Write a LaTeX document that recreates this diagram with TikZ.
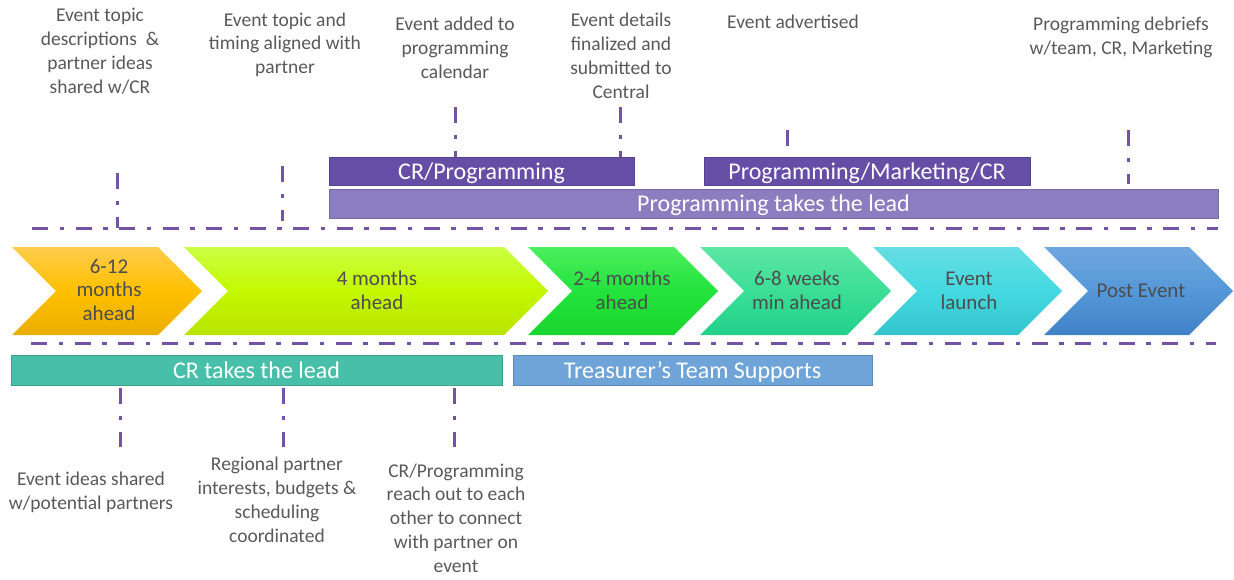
\documentclass[tikz,border=0pt]{standalone}
\usepackage{fontspec}
\setmainfont{Carlito}
\definecolor{ddc}{HTML}{7453A6}
\definecolor{labc}{HTML}{595959}
\definecolor{chevc}{HTML}{4D4D4D}
\definecolor{barA}{HTML}{664EA6}
\definecolor{barB}{HTML}{8C7CC0}
\definecolor{barC}{HTML}{47BFA9}
\definecolor{barD}{HTML}{6FA4D9}
\newcommand\chevshape[5]{\definecolor{chT}{HTML}{#3}\definecolor{chM}{HTML}{#4}\definecolor{chB}{HTML}{#5}%
  \path[top color=chT, bottom color=chB, middle color=chM]
  (#1,247) -- (#2,247) -- ({#2+44},291) -- (#2,335) -- (#1,335) -- ({#1+44},291) -- cycle;}
\begin{document}
\begin{tikzpicture}[x=1pt,y=-1pt,
  ddline/.style={draw=ddc, line width=3pt, dash pattern=on 16pt off 11.5pt on 4.5pt off 11.5pt},
  lab/.style={font=\fontsize{19.5}{23.7}\selectfont, text=labc, align=center, inner sep=0pt, anchor=base},
  chevtxt/.style={font=\fontsize{21}{23.3}\selectfont, text=chevc, align=center, inner sep=0pt, anchor=base},
  bar/.style={inner sep=0pt, text=white, font=\fontsize{24}{28}\selectfont, text height=16pt, text depth=0pt,
              draw=#1!85!black, line width=0.6pt, fill=#1},
]
\useasboundingbox (0,0) rectangle (1234,579);

% chevrons
\chevshape{12}{158}{FFCC4D}{FFC000}{EAAE00}
\chevshape{184}{504}{CCFF44}{C4F800}{B8E400}
\chevshape{528}{674}{4CEE5E}{22E33C}{1AD62E}
\chevshape{700}{847}{5CE6A4}{3BDE96}{22D08A}
\chevshape{873}{1018}{66DDE4}{44D9E0}{33C4CC}
\chevshape{1044}{1189}{6EA6DF}{5598D8}{3E82C6}

% (base anchor = baseline of the last line)
\node[chevtxt] (c1) at (109,320) {6-12\\months\\ahead};
\node[chevtxt] (c2) at (377,309) {4 months\\ahead};
\node[chevtxt] (c3) at (622,309) {2-4 months\\ahead};
\node[chevtxt] (c4) at (797,309) {6-8 weeks\\min ahead};
\node[chevtxt] (c5) at (969,309) {Event\\launch};
\node[chevtxt] (c6) at (1141,297) {Post Event};

% bars
\node[bar=barA, minimum width=305pt, minimum height=28pt] (crp) at (481.5,171) {CR/Programming};
\node[bar=barA, minimum width=326pt, minimum height=28pt] (pmc) at (867,171) {Programming/Marketing/CR};
\node[bar=barB, minimum width=889pt, minimum height=29pt] (ptl) at (773.5,203.5) {Programming takes the lead};
\node[bar=barC, minimum width=491pt, minimum height=30pt] (crl) at (256.5,370) {CR takes the lead};
\node[bar=barD, minimum width=359pt, minimum height=30pt] (tts) at (692.5,370) {Treasurer’s Team Supports};

% top labels
\node[lab] (t1) at (100,93) {Event topic\\descriptions\ \ \&\\partner ideas\\shared w/CR};
\node[lab] (t2) at (285,73.5) {Event topic and\\timing aligned with\\partner};
\node[lab] (t3) at (455,78) {Event added to\\programming\\calendar};
\node[lab] (t4) at (621,98) {Event details\\finalized and\\submitted to\\Central};
\node[lab] (t5) at (793,28) {Event advertised};
\node[lab] (t6) at (1121,54.5) {Programming debriefs\\w/team, CR, Marketing};

% bottom labels
\node[lab] (b1) at (91,509) {Event ideas shared\\w/potential partners};
\node[lab] (b2) at (277,542) {Regional partner\\interests, budgets \&\\scheduling\\coordinated};
\node[lab] (b3) at (456,572) {CR/Programming\\reach out to each\\other to connect\\with partner on\\event};

% horizontal dash-dot lines
\coordinate (ha) at (32,228);
\coordinate (hb) at (1218,228);
\coordinate (hc) at (31,343);
\coordinate (hd) at (1216,343);
\draw[ddline] (ha) -- (hb);
\draw[ddline] (hc) -- (hd);

% top connectors
\coordinate (v1) at (117,173);
\coordinate (v2) at (282,166);
\coordinate (v3) at (455,107);
\coordinate (v4) at (620,107);
\coordinate (v5) at (787,130);
\coordinate (v6) at (1128,130);
\draw[ddline] (v1) -- (v1 |- ha);
\draw[ddline] (v2) -- ([yshift=7pt]v2 |- ha);
\draw[ddline] (v3) -- (v3 |- crp.north);
\draw[ddline] (v4) -- (v4 |- crp.north);
\draw[ddline] (v5) -- ([yshift=-16pt]v5);
\draw[ddline] (v6) -- ([yshift=5pt]v6 |- ptl.north);

% bottom connectors
\coordinate (w1) at (120,388);
\coordinate (w2) at (283,388);
\coordinate (w3) at (454,388);
\draw[ddline] (w1) -- ([yshift=-59pt]w1);
\draw[ddline] (w2) -- ([yshift=-59pt]w2);
\draw[ddline] (w3) -- ([yshift=-59pt]w3);
\end{tikzpicture}
\end{document}
